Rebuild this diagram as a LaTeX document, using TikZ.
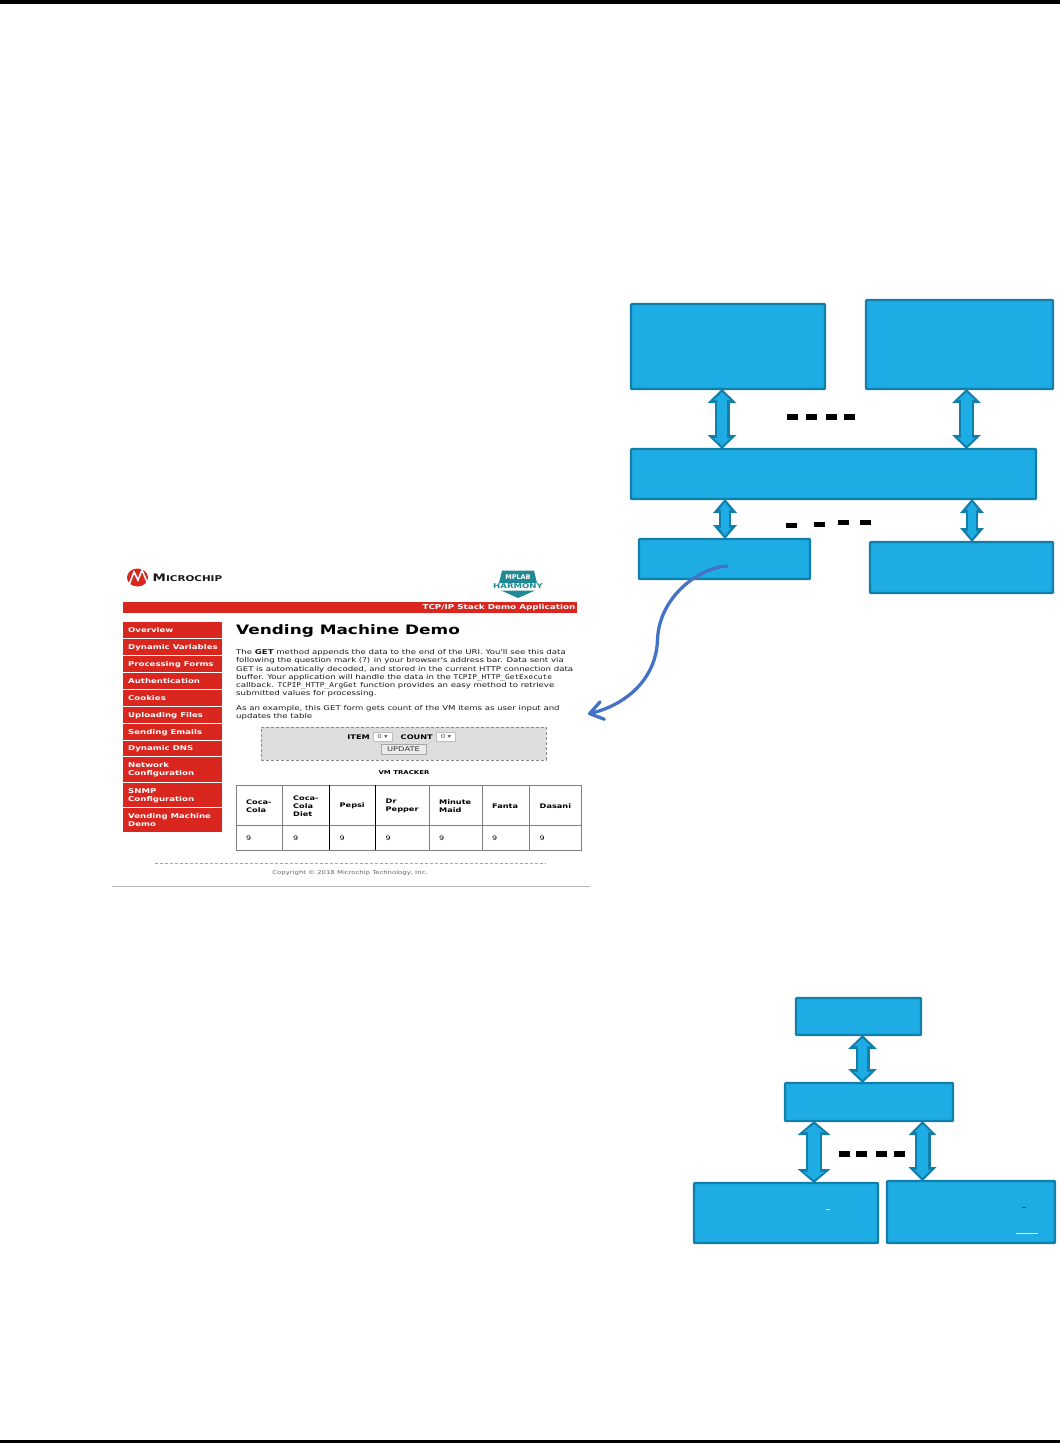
\documentclass[tikz,border=0pt]{standalone}
\usepackage{fontspec}
\usepackage{tikz}
\usetikzlibrary{arrows.meta, shapes, positioning}
\setmainfont{DejaVu Sans}
\newfontfamily\shotfont[FakeStretch=1.3]{DejaVu Sans}
\newfontfamily\shotmono[FakeStretch=1.18]{DejaVu Sans Mono}
\definecolor{blockfill}{HTML}{1DACE3}
\definecolor{blockedge}{HTML}{127FAB}
\definecolor{curveblue}{HTML}{4472C4}
\definecolor{navred}{HTML}{D9261F}
\definecolor{tealmark}{HTML}{1F8A96}
\definecolor{formgray}{HTML}{DDDDDD}
\begin{document}
\begin{tikzpicture}[
    x=1pt, y=-1pt,
    block/.style={rectangle, draw=blockedge, fill=blockfill, line width=2.2pt, rounded corners=0.8pt,
                  inner sep=0pt, outer sep=0pt},
    fatout/.style 2 args={draw=blockedge, line width=#1,
                  {Triangle[length=14pt,width=#2,line width=0pt]}-{Triangle[length=14pt,width=#2,line width=0pt]}},
    fatin/.style 2 args={draw=blockfill, line width=#1-4.4pt, shorten >=3.2pt, shorten <=3.2pt,
                  {Triangle[length=8pt,width=#2-12pt,line width=0pt]}-{Triangle[length=8pt,width=#2-12pt,line width=0pt]}},
    bar/.style={rectangle, fill=black, minimum width=11pt, minimum height=5.5pt, inner sep=0pt},
    navtext/.style={anchor=west, inner sep=0pt, text=white, align=left,
                  font=\shotfont\bfseries\fontsize{6.6}{8}\selectfont},
    shottext/.style={anchor=west, inner sep=0pt, align=left, text=black!90,
                  font=\shotfont\fontsize{6.6}{8.2}\selectfont},
    cellhead/.style={anchor=west, inner sep=0pt, align=left, text=black,
                  font=\shotfont\bfseries\fontsize{6.3}{8}\selectfont},
    selectbox/.style={rectangle, draw=black!25, fill=white, line width=0.6pt, inner sep=0pt,
                  minimum width=19pt, minimum height=9pt, text=black!70,
                  font=\shotfont\fontsize{5.5}{6}\selectfont}
]
\useasboundingbox (0,0) rectangle (1060,1443);
\fill[black] (0,0) rectangle (1060,4);
\fill[black] (0,1440) rectangle (1060,1443);

% upper stack
\node[block, minimum width=194pt, minimum height=85pt] (appa) at (728,346.5) {};
\node[block, minimum width=187pt, minimum height=89pt] (appb) at (959.5,344.5) {};
\node[block, minimum width=405pt, minimum height=50pt] (stack) at (833.5,474) {};
\node[block, minimum width=171pt, minimum height=40pt] (web) at (724.5,559) {};
\node[block, minimum width=183pt, minimum height=51pt] (other) at (961.5,567.5) {};

% lower stack
\node[block, minimum width=125pt, minimum height=37pt] (top) at (858.5,1016.5) {};
\node[block, minimum width=168pt, minimum height=38pt] (mid) at (869,1102) {};
\node[block, minimum width=184pt, minimum height=60pt] (left) at (786,1213) {};
\node[block, minimum width=168pt, minimum height=62pt] (right) at (971,1212) {};

\foreach \from/\to/\xpos/\shaft/\head in {appa/stack/722/15pt/29pt, appb/stack/966.5/15pt/29pt,
        stack/web/725/12pt/24pt, stack/other/972/12pt/24pt, top/mid/862.5/14pt/29pt,
        mid/left/814/16pt/33pt, mid/right/922.5/16pt/28pt} {
    \draw[fatout={\shaft}{\head}] (\from.south -| \xpos,0) -- (\to.north -| \xpos,0);
    \draw[fatin={\shaft}{\head}] (\from.south -| \xpos,0) -- (\to.north -| \xpos,0);
}

% dots between the arrows
\foreach \n/\xpos/\ypos in {a/792.5/417, b/811.5/417, c/831.5/417, d/849.5/417,
        e/791.5/525.5, f/819.5/524.5, g/843/522.5, h/865.5/522.5,
        i/844/1154, j/861/1154, k/881/1154, l/899/1154}
    \node[bar] (dot\n) at (\xpos,\ypos) {};

% small marks left in the lower boxes
\fill[white] (826,1208.6) rectangle (829.5,1209.6);
\fill[green!45!black] (1022,1206.8) rectangle (1026,1207.8);
\fill[white] (1016,1232.7) rectangle (1038,1233.7);

% curved arrow to the page
\coordinate (curvestart) at (728,566);
\coordinate (curveend) at (588,714);
\draw[curveblue, line width=3.3pt, -{Straight Barb[length=13pt,width=18pt,round]}] (curvestart)
    .. controls (700,567) and (659,596) .. (657.5,640)
    .. controls (656,680) and (625,705) .. (curveend);

% microchip logo
\fill[navred] (137.5,577.5) ellipse (10.5 and 9);
\draw[white, line width=1.6pt] (129,585) -- (134,572) -- (138,580) -- (142,570) -- (147,582);
\node[anchor=west, inner sep=0pt, text=black!90] (chipname) at (152.5,577.5)
    {\shotfont\bfseries\fontsize{10.3}{10}\selectfont M\fontsize{8}{10}\selectfont ICROCHIP};

% harmony logo
\fill[tealmark] (502,570.5) -- (534,570.5) -- (537,583) -- (499,583) -- cycle;
\fill[tealmark] (501,590.5) -- (535,590.5) -- (518,598) -- cycle;
\node[inner sep=0pt, text=white, font=\bfseries\fontsize{6.5}{7}\selectfont] (mplab) at (518,577) {MPLAB};
\node[inner sep=0pt, text=tealmark, font=\shotfont\bfseries\fontsize{6.6}{7}\selectfont] (harmony) at (518,586.5) {HARMONY};

% header bar
\fill[navred] (123,602) rectangle (577,613);
\node[anchor=east, inner sep=0pt, text=white, font=\shotfont\bfseries\fontsize{6.75}{8}\selectfont] (barlabel)
    at (575.5,608) {TCP/IP Stack Demo Application};

% side menu
\foreach \n/\ytop/\ybot/\label in {1/622/638/Overview, 2/639/655/Dynamic Variables, 3/656/672/Processing Forms,
        4/673/689/Authentication, 5/690/706/Cookies, 6/707/723/Uploading Files, 7/724/740/Sending Emails,
        8/741/756/Dynamic DNS, 9/757/782/{Network\\Configuration}, 10/783/807/{SNMP\\Configuration},
        11/808/832/{Vending Machine\\Demo}} {
    \fill[navred] (123,\ytop) rectangle (222,\ybot);
    \node[navtext] (nav\n) at (128,{(\ytop+\ybot)/2+0.5}) {\label};
}

% page text
\node[anchor=west, inner sep=0pt, text=black, font=\shotfont\bfseries\fontsize{13}{15}\selectfont] (title)
    at (236,631) {Vending Machine Demo};
\node[shottext, anchor=north west] (para) at (236,649.5) {The \textbf{GET} method appends the data to the end of the URI. You'll see this data\\
following the question mark (?) in your browser's address bar. Data sent via\\
GET is automatically decoded, and stored in the current HTTP connection data\\
buffer. Your application will handle the data in the {\shotmono TCPIP\_HTTP\_GetExecute}\\
callback. {\shotmono TCPIP\_HTTP\_ArgGet} function provides an easy method to retrieve\\
submitted values for processing.};
\node[shottext, anchor=north west] (para2) at (236,705) {As an example, this GET form gets count of the VM items as user input and\\
updates the table};

% form
\node[rectangle, draw=black!45, densely dashed, fill=formgray, line width=0.5pt, minimum width=285pt,
      minimum height=33pt, inner sep=0pt] (form) at (403.5,743.5) {};
\node[cellhead, anchor=east] (itemlabel) at (370,737) {ITEM};
\node[selectbox] (itemsel) at (382.5,736.5) {0 ▾};
\node[cellhead, anchor=east] (countlabel) at (433,737) {COUNT};
\node[selectbox] (countsel) at (446,736.5) {0 ▾};
\node[rectangle, draw=black!35, fill=black!8, line width=0.6pt, minimum width=45pt, minimum height=10pt,
      inner sep=0pt, text=black!80, font=\shotfont\fontsize{6.4}{7}\selectfont] (update) at (403.5,749.5) {UPDATE};
\node[inner sep=0pt, text=black, font=\shotfont\bfseries\fontsize{5.35}{7}\selectfont] (tracker) at (404,772.5) {VM TRACKER};

% table
\draw[black!50, line width=0.9pt] (236,785) rectangle (581.5,850);
\draw[black!50, line width=0.9pt] (236,825.5) -- (581.5,825.5);
\foreach \xpos/\tone in {282.5/50, 329/100, 375.5/100, 429/50, 482/50, 529/50}
    \draw[black!\tone, line width=0.8pt] (\xpos,785) -- (\xpos,850);
\foreach \n/\xpos/\label in {1/246/{Coca-\\Cola}, 2/293/{Coca-\\Cola\\Diet}, 3/339.5/Pepsi, 4/385.5/{Dr\\Pepper},
        5/439/{Minute\\Maid}, 6/492/Fanta, 7/539.5/Dasani} {
    \node[cellhead] (head\n) at (\xpos,806) {\label};
    \node[cellhead, font=\shotfont\fontsize{6.2}{8}\selectfont] (val\n) at (\xpos,838) {9};
}

% footer
\draw[black!35, densely dashed, line width=0.4pt] (155,863) -- (546,863);
\node[inner sep=0pt, text=black!60, font=\shotfont\fontsize{5.3}{7}\selectfont] (copyright) at (350,873)
    {Copyright © 2018 Microchip Technology, Inc.};
\draw[black!30, line width=0.9pt] (112,886.5) -- (590,886.5);
\end{tikzpicture}
\end{document}
